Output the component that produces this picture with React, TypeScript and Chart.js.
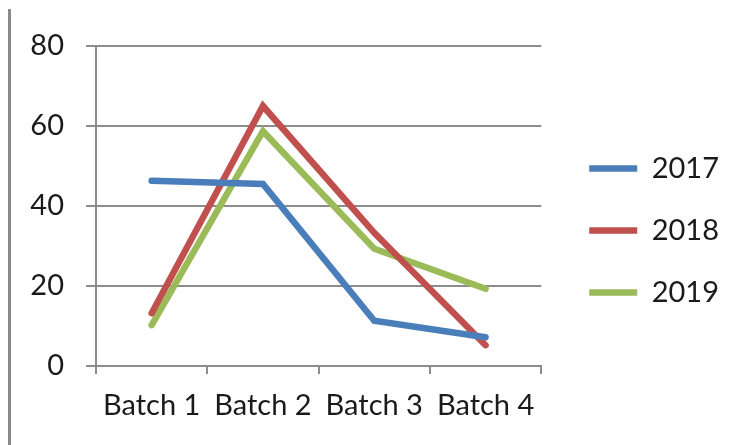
import React, { useEffect, useRef } from "react";
import { Chart, registerables } from "chart.js";

Chart.register(...registerables);

const categories = ["Batch 1", "Batch 2", "Batch 3", "Batch 4"];
const seriesNames = ["2017", "2018", "2019"];
const values2017 = [46.3, 45.5, 11.3, 7.2];
const values2018 = [13.2, 65, 33.3, 5.2];
const values2019 = [10.2, 58.7, 29.3, 19.3];
const seriesColors = ["#4A7EBB", "#C0504D", "#9BBB59"];
const yTicks = [0, 20, 40, 60, 80];

const FONT = "Lato, 'Open Sans', sans-serif";
const GRID = "#8c8c8c";
const TEXT = "#1a1a1a";

const legendNudge = {
  id: "legendNudge",
  beforeDraw(chart: any) {
    const lg = chart.legend;
    if (lg && chart.chartArea) {
      const w = lg.width;
      const h = lg.height;
      lg.left = chart.chartArea.right + 15;
      lg.right = lg.left + w;
      lg.top = chart.chartArea.top + 75;
      lg.bottom = lg.top + h;
    }
  },
};

export default function App() {
  const ref = useRef<HTMLCanvasElement | null>(null);

  useEffect(() => {
    if (!ref.current) return;
    const allValues = [values2017, values2018, values2019];
    const chart = new Chart(ref.current, {
      type: "line",
      data: {
        labels: categories,
        datasets: seriesNames.map((name, i) => ({
          label: name,
          data: allValues[i],
          borderColor: seriesColors[i],
          backgroundColor: seriesColors[i],
          borderWidth: 6.5,
          borderCapStyle: "round" as const,
          pointRadius: 0,
          tension: 0,
          fill: false,
        })),
      },
      options: {
        animation: false,
        responsive: false,
        maintainAspectRatio: false,
        layout: { padding: { left: 0, top: 46, right: 40, bottom: 0 } },
        plugins: {
          tooltip: { enabled: false },
          legend: {
            position: "right",
            align: "start",
            labels: {
              boxWidth: 48,
              boxHeight: 0,
              padding: 33,
              color: TEXT,
              font: { family: FONT, size: 29 },
            },
          },
        },
        scales: {
          x: {
            offset: true,
            grid: {
              offset: true,
              drawOnChartArea: false,
              drawTicks: true,
              tickLength: 8,
              color: GRID,
              lineWidth: 2,
            },
            border: { color: GRID, width: 2 },
            ticks: {
              color: TEXT,
              font: { family: FONT, size: 29 },
              padding: 14,
              maxRotation: 0,
              autoSkip: false,
            },
            afterFit: (s: any) => {
              s.height = 79;
              s.paddingLeft = 0;
              s.paddingRight = 0;
            },
          },
          y: {
            min: 0,
            max: 80,
            afterBuildTicks: (s: any) => {
              s.ticks = yTicks.map((v) => ({ value: v }));
            },
            grid: {
              color: GRID,
              lineWidth: 2,
              tickLength: 10,
            },
            border: { color: GRID, width: 2 },
            ticks: {
              color: TEXT,
              font: { family: FONT, size: 29 },
              padding: 22,
            },
            afterFit: (s: any) => {
              s.width = 96;
              s.paddingTop = 0;
              s.paddingBottom = 0;
            },
          },
        },
      },
      plugins: [legendNudge],
    });
    return () => chart.destroy();
  }, []);

  return (
    <div style={{ position: "fixed", left: 0, top: 0, width: 754, height: 445, background: "#fff" }}>
      <canvas ref={ref} width={754} height={445} style={{ position: "absolute", left: 0, top: 0 }} />
      <div style={{ position: "absolute", left: 8, top: 9, width: 3, height: 436, background: "#8a8a8a" }} />
    </div>
  );
}
